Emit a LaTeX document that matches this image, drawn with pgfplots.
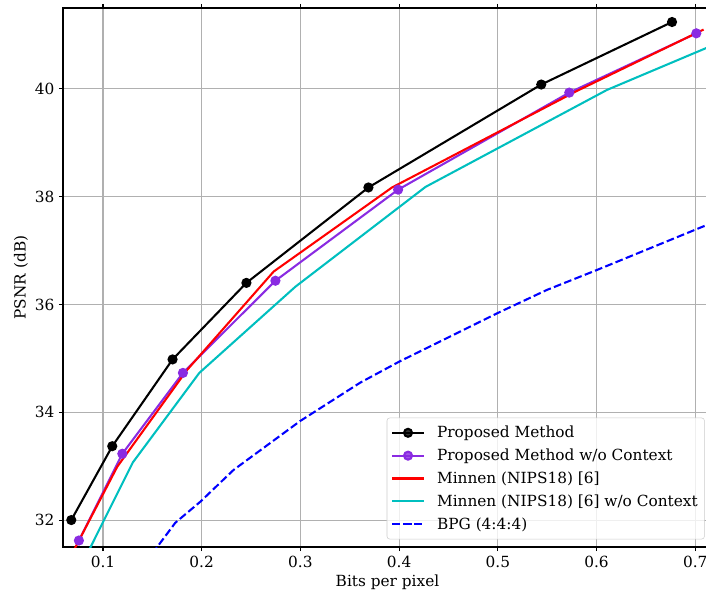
\documentclass[border=0pt]{standalone}
\usepackage{fontspec}
\setmainfont{DejaVu Serif}
\usepackage{pgfplots}
\pgfplotsset{compat=1.18}

\definecolor{mplpurple}{HTML}{8A2BE2}
\definecolor{mplcyan}{HTML}{00BFBF}
\definecolor{gridgray}{HTML}{B0B0B0}

\begin{document}
\begin{tikzpicture}
    \useasboundingbox (-47.25pt,-33.75pt) rectangle (482.25pt,410.25pt);
    \clip (-47.25pt,-33.75pt) rectangle (482.25pt,410.25pt);
    \begin{axis}[
            scale only axis,
            width=486.75pt,
            height=404.25pt,
            xmin=0.0595, xmax=0.7170,
            ymin=31.5, ymax=41.5,
            xtick={0.1,0.2,...,0.7},
            ytick={32,34,...,40},
            xticklabel style={/pgf/number format/.cd,fixed,precision=1,fixed zerofill},
            /pgf/number format/assume math mode=true,
            tick label style={font=\fontsize{11.5}{13}\selectfont},
            tick align=outside,
            major tick length=3pt,
            tick style={black, line width=0.8pt},
            axis line style={line width=0.8pt},
            grid=major,
            major grid style={gridgray, line width=0.8pt},
            xlabel={Bits per pixel},
            ylabel={PSNR (dB)},
            label style={font=\fontsize{11.5}{13}\selectfont},
            xlabel style={at={(axis description cs:0.5,0)}, anchor=center, yshift=-26.5pt},
            ylabel style={at={(axis description cs:-0.0647,0.5)}, anchor=center, rotate=0},
            legend cell align=left,
            legend style={at={(axis description cs:0.4988,0.0143)}, anchor=south west,
                font=\fontsize{11.5}{13}\selectfont,
                draw=black!20, rounded corners=2pt, fill=white, fill opacity=0.8, text opacity=1,
                row sep=2.9pt, inner xsep=3pt, inner ysep=4pt,
                /tikz/every odd column/.append style={column sep=7pt}},
            legend image code/.code={
                \draw[mark repeat=2,mark phase=2,#1] plot coordinates {(0pt,0pt) (12pt,0pt) (24pt,0pt)};
            },
            every axis plot/.append style={line width=1.55pt},
        ]

        \addplot[black, mark=*, mark size=3pt] coordinates {
            (0.0679,32.00) (0.1094,33.37) (0.1705,34.98) (0.2453,36.40)
            (0.3689,38.17) (0.5440,40.08) (0.6765,41.24)
        };
        \addlegendentry{Proposed Method}

        \addplot[mplpurple, mark=*, mark size=3pt] coordinates {
            (0.0756,31.62) (0.1196,33.23) (0.1810,34.73) (0.2747,36.44)
            (0.3990,38.13) (0.5724,39.93) (0.7011,41.03)
        };
        \addlegendentry{Proposed Method w/o Context}

        \addplot[red, mark=none] coordinates {
            (0.0660,31.28) (0.1145,32.99) (0.1850,34.78) (0.2729,36.61)
            (0.3928,38.17) (0.5800,39.96) (0.7085,41.10)
        };
        \addlegendentry{Minnen (NIPS18) [6]}

        \addplot[mplcyan, mark=none] coordinates {
            (0.0820,31.30) (0.1303,33.07) (0.1976,34.73) (0.2950,36.33)
            (0.4267,38.18) (0.6106,39.98) (0.7400,40.98)
        };
        \addlegendentry{Minnen (NIPS18) [6] w/o Context}

        \addplot[blue, mark=none, dash pattern=on 5.8pt off 2.5pt] coordinates {
            (0.1500,31.38) (0.1733,31.95) (0.1986,32.34) (0.2323,32.93)
            (0.3000,33.84) (0.3607,34.55) (0.4002,34.94) (0.4998,35.84)
            (0.5498,36.27) (0.6005,36.64) (0.7085,37.45) (0.7300,37.58)
        };
        \addlegendentry{BPG (4:4:4)}
    \end{axis}
\end{tikzpicture}
\end{document}
